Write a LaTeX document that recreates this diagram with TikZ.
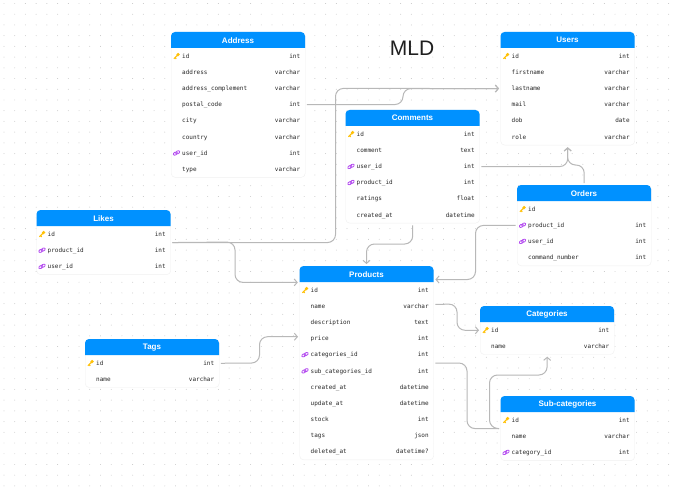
\documentclass[tikz,border=0pt]{standalone}
\usepackage{fontspec}
\setmainfont{Liberation Sans}
\setmonofont{DejaVu Sans Mono}
\usetikzlibrary{arrows.meta, shapes.geometric}
\definecolor{headblue}{HTML}{0091FF}
\definecolor{linkgrey}{HTML}{B8B8B8}
\definecolor{dotgrey}{HTML}{C4C4C4}
\definecolor{keyyellow}{HTML}{FFC107}
\definecolor{fkpurple}{HTML}{B44CF0}
\tikzset{
  card/.style={draw=black!6, fill=white, rounded corners=4pt, anchor=north west, inner sep=0pt, minimum width=134pt},
  headlabel/.style={anchor=north, inner sep=0pt, minimum width=134pt, minimum height=16pt, text=white, font=\fontsize{8}{8}\selectfont\bfseries},
  rowlabel/.style={anchor=north west, inner sep=0pt, text width=134pt, minimum height=16.15pt, text height=5.4pt, text depth=1.2pt, text=black!85, font=\fontsize{6}{6}\ttfamily},
  connector/.style={draw=linkgrey, line width=1pt, rounded corners=8pt},
  arrow/.style={connector, -{Straight Barb[length=3pt, width=7pt]}},
  keyicon/.pic={
    \fill[keyyellow] (1.6,-1.5) circle (1.8);
    \draw[keyyellow, line width=1.1pt] (1.2,-1) -- (-2.6,2.6) (-1.4,1.5) -- (-0.2,2.8);
  },
  fkicon/.pic={
    \draw[fkpurple, line width=0.8pt, rotate=28] (-1.3,0) ellipse (2.2 and 1.4) (1.3,0) ellipse (2.2 and 1.4);
  },
  noicon/.pic={}
}
\newcommand{\dbtable}[6]{
  \pgfmathsetmacro{\cardheight}{16+16.15*#5}
  \node[card, minimum height=\cardheight pt] (#1) at (#2,#3) {};
  \fill[headblue] (#2,#3+16) [rounded corners=4pt] -- (#2,#3) -- (#2+134,#3) [sharp corners] -- (#2+134,#3+16) -- cycle;
  \node[headlabel] (#1-head) at (#2+67,#3) {#4};
  \foreach \icon/\field/\kind [count=\n] in {#6} {
    \node[rowlabel] (#1-\n) at (#2,#3+16+16.15*\n-16.15) {\hspace*{11pt}\field\hfill\kind\kern5pt};
    \pic at (#2+5.5,#3+16+16.15*\n-8.07) {\icon};
  }
}
\begin{document}
\begin{tikzpicture}[x=1pt, y=-1pt]
\useasboundingbox (0,0) rectangle (677,492);
\fill[white] (0,0) rectangle (677,492);
\foreach \i in {0,...,62} {
  \foreach \j in {0,...,45} {
    \fill[dotgrey] (4+10.72*\i,3.5+10.72*\j) circle (0.45);
  }
}
\node[font=\fontsize{21}{21}\selectfont, text=black!88] (title) at (412,48) {MLD};

\dbtable{address}{171}{32}{Address}{8}{keyicon/id/int, noicon/address/varchar, noicon/address\_complement/varchar, noicon/postal\_code/int, noicon/city/varchar, noicon/country/varchar, fkicon/user\_id/int, noicon/type/varchar}
\dbtable{users}{500.5}{32}{Users}{6}{keyicon/id/int, noicon/firstname/varchar, noicon/lastname/varchar, noicon/mail/varchar, noicon/dob/date, noicon/role/varchar}
\dbtable{comments}{345.5}{110}{Comments}{6}{keyicon/id/int, noicon/comment/text, fkicon/user\_id/int, fkicon/product\_id/int, noicon/ratings/float, noicon/created\_at/datetime}
\dbtable{orders}{517}{185}{Orders}{4}{keyicon/id/, fkicon/product\_id/int, fkicon/user\_id/int, noicon/command\_number/int}
\dbtable{likes}{36.5}{210}{Likes}{3}{keyicon/id/int, fkicon/product\_id/int, fkicon/user\_id/int}
\dbtable{products}{299.5}{266}{Products}{11}{keyicon/id/int, noicon/name/varchar, noicon/description/text, noicon/price/int, fkicon/categories\_id/int, fkicon/sub\_categories\_id/int, noicon/created\_at/datetime, noicon/update\_at/datetime, noicon/stock/int, noicon/tags/json, noicon/deleted\_at/datetime?}
\dbtable{categories}{480}{306}{Categories}{2}{keyicon/id/int, noicon/name/varchar}
\dbtable{tags}{85}{339}{Tags}{2}{keyicon/id/int, noicon/name/varchar}
\dbtable{subcategories}{500.5}{396}{Sub-categories}{3}{keyicon/id/int, noicon/name/varchar, fkicon/category\_id/int}

\draw[arrow] ([xshift=1.5pt]address-4.east) -- (403,104.5) |- ([xshift=-1.5pt]users-3.west);
\draw[arrow] ([xshift=1.5pt]likes-1.south east) -| (335.5,88.4) -- ([xshift=-1.5pt]users-3.west);
\draw[arrow] ([xshift=1.5pt]likes-1.south east) -- (235,242) |- ([xshift=-1.5pt]products-head.south west);
\draw[arrow] ([xshift=1.5pt]comments-3.east) -| ([yshift=-2pt]users.south);
\draw[arrow] ([yshift=2pt]orders.north) |- (567.5,165) -- ([yshift=-2pt]users.south);
\draw[arrow] ([yshift=-2pt]comments.south) |- (366.5,244) -- ([yshift=2pt]products.north -| 366.5,266);
\draw[arrow] ([xshift=-1.5pt]orders-2.west) -| (475.5,279.5) -- ([xshift=1.5pt]products.north east |- 433.5,279.5);
\draw[arrow] ([xshift=1.5pt,yshift=2pt]products-2.east) -- (457,304) |- ([xshift=-1pt]categories-1.west);
\draw[connector] ([xshift=1.5pt]products-5.south east) -- (467,363) |- ([xshift=-1.5pt]subcategories-1.south west);
\draw[arrow] ([xshift=-1.5pt]subcategories-1.south west) -- (489.5,428) |- (547,375) -- ([yshift=-2pt]categories.south);
\draw[arrow] ([xshift=1.5pt]tags-1.east) -- (259.5,363) |- ([xshift=-1.5pt,yshift=2pt]products-4.west);
\end{tikzpicture}
\end{document}
